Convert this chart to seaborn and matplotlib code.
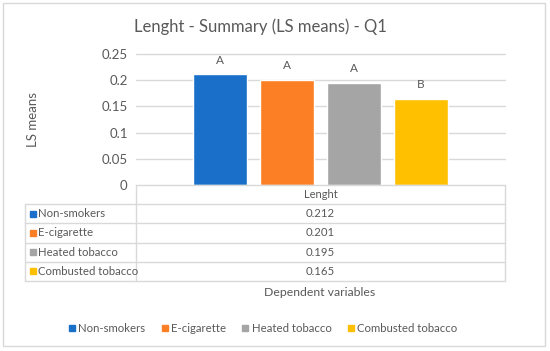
import matplotlib
matplotlib.use("Agg")
import matplotlib.pyplot as plt
from matplotlib.patches import Rectangle
from matplotlib.lines import Line2D
import seaborn as sns
import pandas as pd

# data
groups = ["Non-smokers", "E-cigarette", "Heated tobacco", "Combusted tobacco"]
ls_means = [0.212, 0.201, 0.195, 0.165]
letters = ["A", "A", "A", "B"]
variable = "Lenght"
colors = ["#1a70c8", "#fd7f25", "#a5a5a5", "#ffc000"]
yticks = [0, 0.05, 0.1, 0.15, 0.2, 0.25]

df = pd.DataFrame({"variable": [variable] * 4, "group": groups, "mean": ls_means})

sns.set_style("white")
plt.rcParams["font.family"] = ["Lato", "DejaVu Sans"]
txt = "#595959"
grid = "#d9d9d9"

W, H = 550, 351
fig = plt.figure(figsize=(5.5, 3.51), dpi=100)

def fx(px):
    return px / W

def fy(py):
    return 1 - py / H

# outer chart border
fig.patches.append(Rectangle((fx(3), fy(346)), fx(542), 343 / H, transform=fig.transFigure,
                             fill=False, edgecolor=grid, lw=1))

ax = fig.add_axes([fx(136), fy(185), fx(369), (185 - 54) / H])
sns.barplot(data=df, x="variable", y="mean", hue="group", palette=colors,
            width=0.727, gap=0.2, saturation=1, ax=ax, legend=False)
ax.set_ylim(0, 0.25)
ax.set_yticks(yticks)
ax.set_yticklabels([f"{t:g}" for t in yticks], color=txt, fontsize=9.5)
ax.tick_params(axis="y", length=0, pad=6)
ax.set_xticks([])
ax.set_xlabel("")
ax.set_ylabel("LS means", color=txt, fontsize=9.5, labelpad=45)
for t in yticks[1:]:
    ax.axhline(t, color=grid, lw=1, clip_on=False, zorder=0.5)
for s in ax.spines.values():
    s.set_visible(False)
for cont, lab in zip(ax.containers, letters):
    ax.bar_label(cont, labels=[lab], padding=6, color=txt, fontsize=8.5)

ax.set_title("Lenght - Summary (LS means) - Q1", color=txt, fontsize=12, pad=16, x=0.338)

# data table below the plot
tab = fig.add_axes([fx(25), fy(281), fx(480), (281 - 185) / H])
tab.set_xlim(0, 480)
tab.set_ylim(5, 0)
tab.axis("off")
split = 111
lk = dict(color=grid, lw=1, clip_on=False)
tab.plot([split, 480], [0, 0], **lk)
tab.plot([split, split], [0, 5], **lk)
tab.plot([480, 480], [0, 5], **lk)
tab.plot([0, 0], [1, 5], **lk)
for r in range(1, 6):
    tab.plot([0, 480], [r, r], **lk)
tab.text((split + 480) / 2, 0.5, variable, ha="center", va="center", color=txt, fontsize=8)
for i, (g, v, c) in enumerate(zip(groups, ls_means, colors)):
    tab.plot(7.5, i + 1.5, marker="s", ms=4.5, color=c, ls="")
    tab.text(13, i + 1.5, g, ha="left", va="center", color=txt, fontsize=8.2)
    tab.text((split + 480) / 2, i + 1.5, f"{v:.3f}", ha="center", va="center", color=txt, fontsize=8.2)

fig.text(fx(320), fy(292), "Dependent variables", ha="center", va="center", color=txt, fontsize=8.8)

handles = [Line2D([], [], marker="s", ls="", color=c, markersize=4.5) for c in colors]
fig.legend(handles, groups, loc="center", bbox_to_anchor=(fx(263), fy(328)), ncol=4,
           frameon=False, fontsize=8.2, labelcolor=txt, handlelength=0.6,
           handletextpad=0.25, columnspacing=1.4)

fig.savefig("out.png", dpi=100)
